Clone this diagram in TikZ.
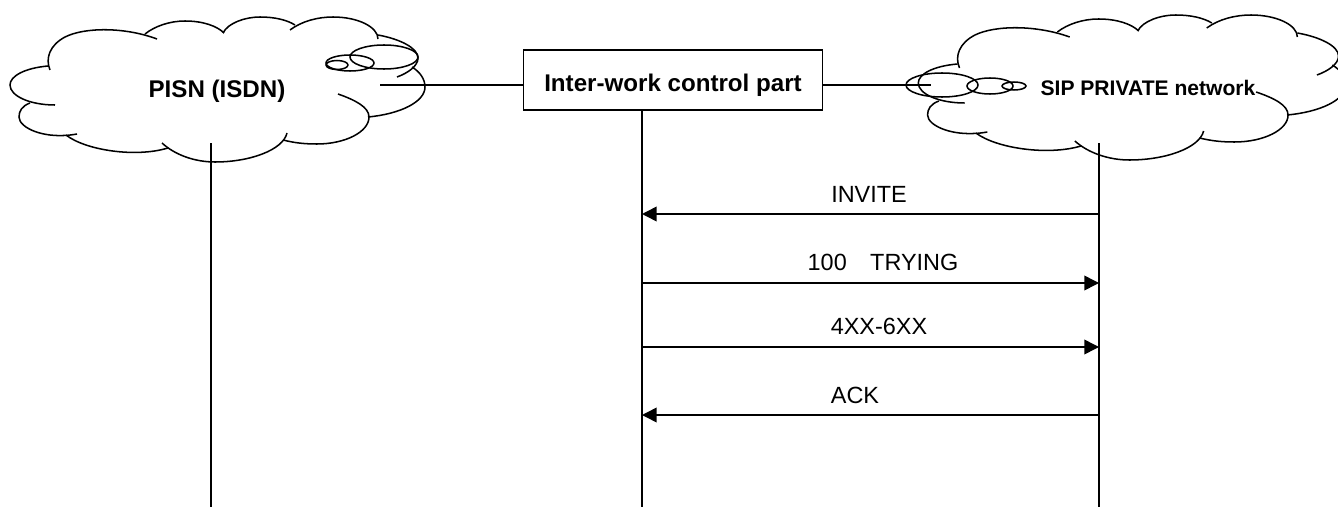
\documentclass[tikz,border=0pt]{standalone}
\usepackage{fontspec}
\setmainfont{Liberation Sans}
\usetikzlibrary{arrows.meta}
\tikzset{wire/.style={line width=1.3pt}}
\tikzset{msg/.style={wire,-{Triangle[length=12.5pt,width=12.5pt]}}}
\tikzset{msgtext/.style={font=\fontsize{20}{24}\selectfont,inner sep=0pt,anchor=base}}
\tikzset{cloudtext/.style={font=\fontsize{20.6}{24}\selectfont\bfseries,inner sep=0pt,anchor=base}}
% outline of a cloud, in pixels of the reference
\tikzset{cloudline/.pic={
    \draw[wire] (157,39) .. controls (125,27) and (85,27) .. (65,37) .. controls (50,45) and (45,58) .. (50,70);
    \draw[wire] (48,66) .. controls (25,68) and (10,76) .. (10,85) .. controls (10,96) and (30,105) .. (55,105);
    \draw[wire] (30,103) .. controls (22,106) and (19,111) .. (19,117) .. controls (19,128) and (45,140) .. (77,134);
    \draw[wire] (66,135) .. controls (85,150) and (135,158) .. (168,148);
    \draw[wire] (162,143) .. controls (175,155) and (195,162) .. (215,162) .. controls (250,162) and (283,150) .. (287,133);
    \draw[wire] (283,140) .. controls (295,143) and (305,144) .. (317,144) .. controls (345,144) and (369,132) .. (369,117) .. controls (369,107) and (355,100) .. (338,94);
    \draw[wire] (368,117) .. controls (400,114) and (425,102) .. (425,87) .. controls (425,79) and (420,72) .. (412,67);
    \draw[wire] (378,35) .. controls (400,39) and (418,48) .. (418,58) .. controls (418,66) and (408,73) .. (397,77);
    \draw[wire] (290,30) .. controls (302,21) and (318,17) .. (333,17) .. controls (358,17) and (378,27) .. (378,39);
    \draw[wire] (223,33) .. controls (228,23) and (245,17) .. (260,17) .. controls (275,17) and (287,20) .. (295,25);
    \draw[wire] (145,34) .. controls (155,26) and (170,21) .. (185,21) .. controls (203,21) and (217,26) .. (224,33);
}}
\begin{document}
\begin{tikzpicture}[x=0.03cm,y=-0.03cm]
    \useasboundingbox (0,0) rectangle (1338,507);
    % the two clouds
    \pic at (0,0) {cloudline};
    \pic[xscale=1.03] at (908,-2) {cloudline};
    % bubbles on the left cloud
    \draw[wire] (384,57) ellipse (34 and 12);
    \draw[wire] (350,63) ellipse (24 and 8);
    \draw[wire] (337,65) ellipse (11 and 4.5);
    % bubbles on the right cloud
    \draw[wire] (942,85) ellipse (36 and 12);
    \draw[wire] (990,86) ellipse (23 and 8);
    \draw[wire] (1014,86) ellipse (12 and 4);
    % the labels of the clouds
    \node[cloudtext] (pisn) at (217,97) {PISN (ISDN)};
    \node[cloudtext,font=\fontsize{18}{22}\selectfont\bfseries] (sip) at (1148,96) {SIP PRIVATE network};
    % control box
    \node[draw,wire,minimum width=300*0.85pt,minimum height=60*0.85pt] (ctrl) at (673,80) {};
    \node[cloudtext] (ctrltext) at (673,92) {Inter-work control part};
    \coordinate (pisnend) at (380,85);
    \coordinate (sipend) at (931,85);
    \draw[wire] (pisnend) -- (pisnend -| ctrl.west);
    \draw[wire] (ctrl.east |- sipend) -- (sipend);
    % life lines
    \coordinate (pisntop) at (211,143);
    \coordinate (pisnbot) at (211,507);
    \coordinate (ctrlbot) at (642,507);
    \coordinate (siptop) at (1099,143);
    \coordinate (sipbot) at (1099,507);
    \draw[wire] (pisntop) -- (pisnbot);
    \draw[wire] (ctrl.south -| ctrlbot) -- (ctrlbot);
    \draw[wire] (siptop) -- (sipbot);
    % messages
    \coordinate (ca) at (642,214); \coordinate (sa) at (1099,214);
    \coordinate (cb) at (642,283); \coordinate (sb) at (1099,283);
    \coordinate (cc) at (642,347); \coordinate (sc) at (1099,347);
    \coordinate (cd) at (642,415); \coordinate (sd) at (1099,415);
    \draw[msg] (sa) -- (ca);
    \draw[msg] (cb) -- (sb);
    \draw[msg] (cc) -- (sc);
    \draw[msg] (sd) -- (cd);
    \node[msgtext] (invite) at (869,202) {INVITE};
    \node[msgtext] (trying) at (883,270) {100\hspace{1em}TRYING};
    \node[msgtext] (fails) at (879,334) {4XX-6XX};
    \node[msgtext] (ack) at (855,403) {ACK};
\end{tikzpicture}
\end{document}
